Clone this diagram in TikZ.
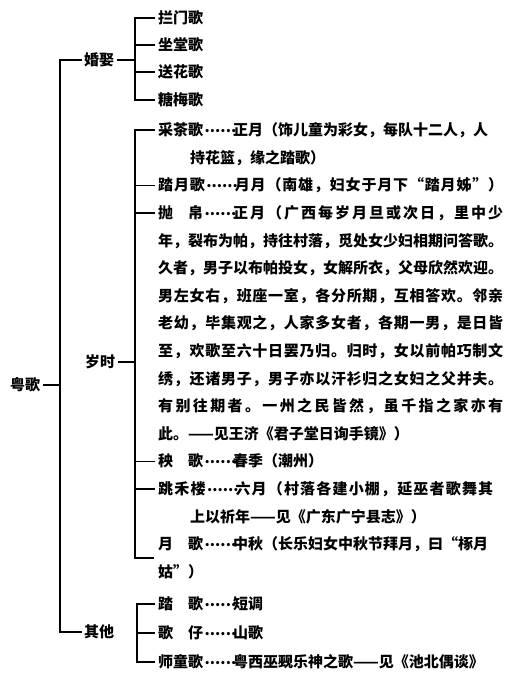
\documentclass[tikz,border=0pt]{standalone}
\usepackage{fontspec}
\setmainfont{Noto Sans CJK SC}
\XeTeXinterchartokenstate=1
\newcount\cjkcc
\cjkcc="4E00
\loop \XeTeXcharclass\cjkcc=1 \advance\cjkcc by 1 \ifnum\cjkcc<"A000 \repeat
\XeTeXcharclass"3001=1 \XeTeXcharclass"3002=1 \XeTeXcharclass"FF0C=1
\XeTeXcharclass"FF08=1 \XeTeXcharclass"FF09=1 \XeTeXcharclass"300A=1
\XeTeXcharclass"300B=1 \XeTeXcharclass"201C=1 \XeTeXcharclass"201D=1
\XeTeXinterchartoks 1 1 = {\hskip 0pt plus 1pt\relax}
\newcommand\jline[2]{\makebox[#1][s]{#2}}
\newcommand\onedot{\raisebox{0.22em}{.}}
\newcommand\sixdots{\makebox[2em][s]{\hspace{0.1em}\onedot\hfil\onedot\hfil\onedot\hfil\onedot\hfil\onedot\hfil\onedot\hspace{0.1em}}}
\tikzset{
  lab/.style={anchor=west, inner xsep=3pt, inner ysep=0pt, text height=13.2pt, text depth=1.8pt},
  leaf/.style={lab, inner xsep=4pt},
  ln/.style={line width=1.4pt, line cap=rect}
}
\begin{document}
\begin{tikzpicture}[x=1pt,y=-1pt,every node/.style={font=\fontsize{15}{15}\selectfont\bfseries}]
\useasboundingbox[fill=white] (0,0) rectangle (520,689);
% guide coordinates
\coordinate (mx) at (60,0);
\coordinate (hx) at (135,0);
\coordinate (qx) at (137,0);
% top-level nodes
\node[lab] (root) at (7,385) {粤歌};
\node[lab] (hunqu) at (81,60) {婚娶};
\node[lab] (suishi) at (82,362) {岁时};
\node[lab] (qita) at (81,632) {其他};
% wedding songs
\node[leaf] (h1) at (154,18) {拦门歌};
\node[leaf] (h2) at (154,45) {坐堂歌};
\node[leaf] (h3) at (154,72) {送花歌};
\node[leaf] (h4) at (154,100) {糖梅歌};
% seasonal songs
\node[leaf] (s0) at (154,130) {采茶歌\sixdots 正月（饰儿童为彩女，每队十二人，人};
\node[leaf] (s1) at (186,157.6) {持花篮，缘之踏歌）};
\node[leaf] (s2) at (154,185.2) {\jline{345pt}{踏月歌\sixdots 月月（南雄，妇女于月下“踏月姊”）}};
\node[leaf] (s3) at (154,212.8) {\jline{345pt}{抛　帛\sixdots 正月（广西每岁月旦或次日，里中少}};
\node[leaf] (s4) at (154,240.4) {\jline{345pt}{年，裂布为帕，持往村落，觅处女少妇相期问答歌。}};
\node[leaf] (s5) at (154,268) {\jline{345pt}{久者，男子以布帕投女，女解所衣，父母欣然欢迎。}};
\node[leaf] (s6) at (154,295.6) {\jline{345pt}{男左女右，班座一室，各分所期，互相答欢。邻亲}};
\node[leaf] (s7) at (154,323.2) {\jline{345pt}{老幼，毕集观之，人家多女者，各期一男，是日皆}};
\node[leaf] (s8) at (154,350.8) {\jline{345pt}{至，欢歌至六十日罢乃归。归时，女以前帕巧制文}};
\node[leaf] (s9) at (154,378.4) {\jline{345pt}{绣，还诸男子，男子亦以汗衫归之女妇之父并夫。}};
\node[leaf] (s10) at (154,406) {\jline{345pt}{有别往期者。一州之民皆然，虽千指之家亦有}};
\node[leaf] (s11) at (154,433.6) {此。——见王济《君子堂日询手镜》）};
\node[leaf] (s12) at (154,461.2) {秧　歌\sixdots 春季（潮州）};
\node[leaf] (s13) at (154,488.8) {\jline{335pt}{跳禾楼\sixdots 六月（村落各建小棚，延巫者歌舞其}};
\node[leaf] (s14) at (186,516.4) {上以祈年——见《广东广宁县志》）};
\node[leaf] (s15) at (154,544) {月　歌\sixdots 中秋（长乐妇女中秋节拜月，曰“椓月};
\node[leaf] (s16) at (154,571.6) {姑”）};
\coordinate (sb) at (135,558);
\coordinate (sbe) at (153,558);
% other songs
\node[leaf] (q1) at (154,604) {踏　歌\sixdots 短调};
\node[leaf] (q2) at (154,633) {歌　仔\sixdots 山歌};
\node[leaf] (q3) at (154,662) {师童歌\sixdots 粤西巫觋乐神之歌——见《池北偶谈》};
% connectors: main bracket
\draw[ln] (root.east) -- (root.east -| mx);
\draw[ln] (hunqu.west) -- (hunqu.west -| mx) -- (qita.west -| mx) -- (qita.west);
% wedding bracket
\draw[ln] (hunqu.east) -- (hunqu.east -| hx);
\draw[ln] (h1.west) -- (h1.west -| hx) -- (h4.west -| hx) -- (h4.west);
\draw[ln] (h2.west) -- (h2.west -| hx);
\draw[ln] (h3.west) -- (h3.west -| hx);
% seasonal bracket
\draw[ln] (suishi.east) -- (suishi.east -| hx);
\draw[ln] (s0.west) -| (sb) -- (sbe);
\draw[ln] (s2.west) -- (s2.west -| hx);
\draw[ln] (s3.west) -- (s3.west -| hx);
\draw[ln] (s12.west) -- (s12.west -| hx);
\draw[ln] (s13.west) -- (s13.west -| hx);
% other bracket
\draw[ln] (q1.west) -- (q1.west -| qx) -- (q3.west -| qx) -- (q3.west);
\draw[ln] (q2.west) -- (q2.west -| qx);
\end{tikzpicture}
\end{document}
